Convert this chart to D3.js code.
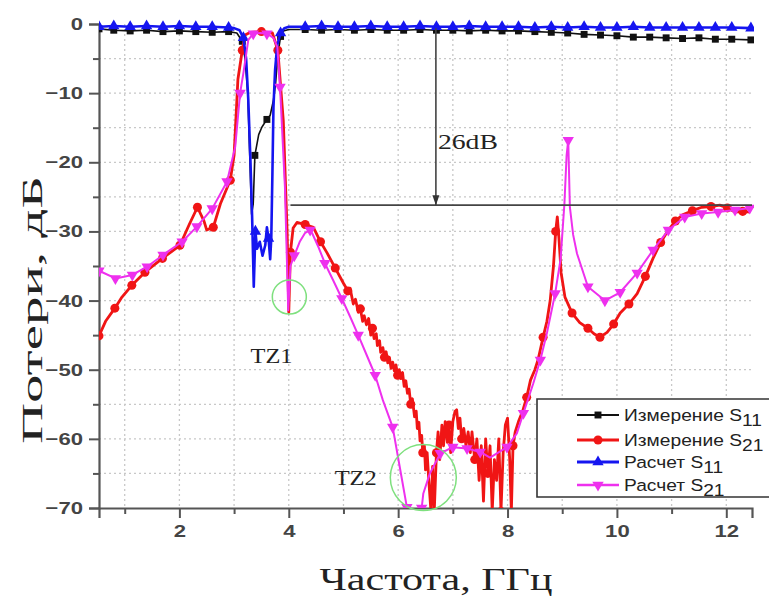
<!DOCTYPE html>
<html lang="ru">
<head>
  <meta charset="UTF-8">
  <title>S-параметры</title>
  <script src="https://d3js.org/d3.v7.min.js"></script>
  <style>
    body { margin: 0; background: #fff; }
    .tick-lbl { font-family: Arial, "Liberation Sans", sans-serif; font-size: 17px; font-weight: 600; fill: #444; }
    .serif { font-family: "Liberation Serif", "Times New Roman", serif; fill: #222; }
  </style>
</head>
<body>
<script>
  var W = 769, H = 599;

  // axis ticks
  var xMajor = [2, 4, 6, 8, 10, 12];
  var xMinor = [1, 3, 5, 7, 9, 11];
  var yMajor = [0, -10, -20, -30, -40, -50, -60, -70];
  var yMinor = [-5, -15, -25, -35, -45, -55, -65];

  // Измерение S11 (black)
  var measS11 = [[0.53,-0.7],[0.8,-0.9],[1.1,-1.0],[1.4,-0.9],[1.7,-1.1],[2.0,-1.0],[2.3,-1.1],[2.6,-1.2],[2.9,-1.1],
    [3.05,-1.3],[3.15,-2.5],[3.2,-5],[3.25,-10],[3.29,-20],[3.32,-27.5],[3.35,-26],[3.38,-19],[3.45,-16],[3.51,-14.9],
    [3.6,-13.8],[3.66,-13.2],[3.72,-11],[3.76,-8.5],[3.8,-4.5],[3.85,-1.8],[3.9,-1.0],[4.0,-0.8],[4.3,-0.8],[4.6,-0.9],
    [4.9,-0.8],[5.2,-0.9],[5.5,-0.8],[5.8,-0.9],[6.1,-0.9],[6.4,-0.8],[6.7,-0.9],[7.0,-0.9],[7.3,-1.0],[7.6,-0.9],
    [7.9,-1.0],[8.2,-1.0],[8.5,-1.1],[8.8,-1.2],[9.1,-1.3],[9.4,-1.5],[9.7,-1.6],[10.0,-1.7],[10.3,-1.9],[10.6,-1.9],
    [10.9,-2.0],[11.2,-2.1],[11.5,-2.0],[11.8,-2.2],[12.1,-2.2],[12.45,-2.3]];

  // Измерение S21 (red)
  var measS21 = [[0.53,-45.1],[0.65,-43],[0.82,-41.1],[0.95,-39.5],[1.13,-37.8],[1.37,-35.9],[1.69,-33.9],[2.01,-32],
    [2.18,-29],[2.33,-26.5],[2.45,-28.5],[2.5,-29.8],[2.62,-29.4],[2.75,-26],[2.93,-22.6],[3.0,-19],[3.07,-8],[3.15,-3.8],
    [3.2,-1.6],[3.3,-1.2],[3.5,-1.1],[3.7,-1.3],[3.8,-3.8],[3.9,-14],[3.97,-30],[4.0,-41.7],[4.03,-33],[4.08,-29.5],
    [4.15,-28.7],[4.2,-28.8],[4.3,-29],[4.45,-29.4],[4.58,-31.5],[4.7,-33.1],[4.85,-35.3],[5.0,-37.5],[5.08,-38.6],
    [5.12,-38.2],[5.18,-40.5],[5.22,-39.8],[5.27,-41.7],[5.31,-41.2],[5.35,-43],[5.38,-42.2],[5.42,-43.5],[5.46,-42.6],
    [5.5,-45],[5.53,-44],[5.56,-45.5],[5.6,-44.8],[5.62,-46.5],[5.66,-45.8],[5.68,-47.5],[5.72,-46.8],[5.75,-48.2],
    [5.78,-47.4],[5.81,-49],[5.84,-48.2],[5.87,-49.8],[5.9,-48.9],[5.93,-50.2],[5.96,-49.3],[5.99,-50.8],[6.02,-50],
    [6.05,-51.3],[6.08,-50.4],[6.11,-52.4],[6.14,-51.6],[6.17,-53.4],[6.2,-52.8],[6.23,-55],[6.26,-54.2],[6.3,-56.8],
    [6.33,-56],[6.35,-58.5],[6.38,-57.6],[6.4,-60.3],[6.43,-59.5],[6.45,-62],[6.48,-61],[6.5,-64.5],[6.53,-62],
    [6.56,-66],[6.6,-70.5],[6.63,-64],[6.66,-70.5],[6.7,-62],[6.73,-59],[6.76,-63],[6.8,-58],[6.83,-61],[6.86,-57.5],
    [6.9,-60.5],[6.93,-58],[6.96,-62],[7.0,-57.5],[7.04,-56],[7.07,-55.8],[7.1,-58.5],[7.13,-57],[7.16,-60],[7.2,-58.5],
    [7.24,-61],[7.28,-59],[7.32,-62],[7.35,-59],[7.4,-63],[7.44,-60],[7.48,-66],[7.52,-61],[7.56,-69],[7.6,-60],
    [7.64,-65],[7.68,-61],[7.72,-70.5],[7.76,-63],[7.8,-66],[7.84,-60],[7.88,-70.5],[7.92,-62],[7.96,-58],[8.0,-57],
    [8.04,-63],[8.07,-70.5],[8.1,-61],[8.14,-59],[8.2,-57.5],[8.28,-55.9],[8.35,-54],[8.42,-51.5],[8.5,-50],
    [8.56,-48.5],[8.65,-45.3],[8.72,-43],[8.78,-40],[8.84,-35],[8.88,-30],[8.91,-27.9],[8.94,-31],[8.98,-36],
    [9.05,-39.5],[9.18,-41.8],[9.32,-43.2],[9.47,-44],[9.58,-44.8],[9.69,-45.3],[9.82,-44.6],[9.94,-43.4],[10.06,-41.8],
    [10.22,-40.5],[10.37,-39],[10.52,-36.5],[10.66,-33.9],[10.8,-31.6],[10.94,-29.8],[11.07,-28.5],[11.2,-27.6],
    [11.38,-27],[11.55,-26.5],[11.72,-26.4],[11.88,-26.2],[12.02,-26.6],[12.16,-27.2],[12.3,-27.1],[12.43,-27.2]];

  // Расчет S11 (blue)
  var simS11 = [[0.53,-0.4],[0.8,-0.3],[1.1,-0.4],[1.4,-0.3],[1.7,-0.4],[2.0,-0.3],[2.3,-0.4],[2.6,-0.4],[2.9,-0.5],
    [3.0,-0.6],[3.1,-0.9],[3.17,-2],[3.22,-5],[3.26,-11],[3.3,-20],[3.33,-28],[3.36,-38],[3.39,-30],[3.42,-32.5],
    [3.47,-31.5],[3.52,-33.5],[3.57,-32],[3.6,-29.4],[3.63,-31],[3.66,-34],[3.68,-31],[3.7,-22],[3.72,-12],[3.75,-6.6],
    [3.79,-3],[3.85,-1.3],[3.92,-0.6],[4.0,-0.4],[4.3,-0.4],[4.6,-0.3],[4.9,-0.4],[5.2,-0.4],[5.5,-0.3],[5.8,-0.4],
    [6.1,-0.4],[6.4,-0.3],[6.7,-0.4],[7.0,-0.4],[7.3,-0.3],[7.6,-0.4],[7.9,-0.4],[8.2,-0.4],[8.5,-0.5],[8.8,-0.4],
    [9.1,-0.5],[9.4,-0.4],[9.7,-0.5],[10.0,-0.5],[10.3,-0.4],[10.6,-0.5],[10.9,-0.5],[11.2,-0.5],[11.5,-0.5],
    [11.8,-0.5],[12.1,-0.5],[12.45,-0.6]];

  // Расчет S21 (magenta)
  var simS21 = [[0.53,-35.7],[0.59,-35.9],[0.83,-36.8],[1.14,-36.3],[1.41,-35.1],[1.7,-33.4],[2.05,-31.5],[2.32,-29.3],
    [2.6,-26.7],[2.87,-22.8],[3.02,-17.8],[3.11,-10],[3.17,-7.1],[3.26,-2.3],[3.35,-1.4],[3.48,-1.3],[3.6,-1.4],
    [3.72,-2],[3.79,-3.3],[3.84,-9.1],[3.93,-23.6],[3.99,-41.4],[4.03,-35],[4.1,-33.5],[4.2,-31.5],[4.3,-30.2],
    [4.39,-29.8],[4.43,-30.3],[4.55,-32.4],[4.66,-34.6],[4.82,-37.2],[4.97,-39.7],[5.12,-42.3],[5.27,-45],[5.42,-47.8],
    [5.58,-50.8],[5.72,-54.4],[5.9,-58.3],[6.03,-64.1],[6.16,-69.9],[6.3,-74],[6.43,-70],[6.46,-67.9],[6.58,-65],
    [6.77,-62.1],[7.0,-61.2],[7.26,-61.4],[7.5,-61.9],[7.68,-62.7],[7.99,-61.2],[8.17,-59.2],[8.29,-56.3],[8.47,-52],
    [8.6,-48.6],[8.72,-44.7],[8.87,-39],[8.97,-34],[9.04,-26],[9.08,-19],[9.11,-16.8],[9.14,-26.5],[9.2,-30.5],
    [9.27,-33.2],[9.47,-38],[9.78,-40],[10.06,-38.8],[10.37,-36],[10.66,-32.7],[10.94,-29.8],[11.24,-27.9],
    [11.55,-27.4],[11.85,-27.2],[12.16,-26.9],[12.43,-26.6]];

  var seriesNames = ["Измерение S", "Измерение S", "Расчет S", "Расчет S"];
  var seriesSubs = ["11", "21", "11", "21"];

  // annotations: 26 dB level line and arrow, TZ circles
  var levelLine = [[4.03, -26.2], [12.47, -26.2]];
  var arrowLine = [[6.69, -0.6], [6.69, -26.2]];
  var tzMarks = [{ label: "TZ1", f: 4.01, db: -39.5, r: 17, lf: 3.3, ldb: -49.0 },
                 { label: "TZ2", f: 6.46, db: -65.6, r: 33, lf: 4.84, ldb: -66.7 }];

  var x = d3.scaleLinear().domain([0.53, 12.47]).range([99, 752]);
  var y = d3.scaleLinear().domain([-70, 0]).range([508, 24]);

  var svg = d3.select("body").append("svg")
    .attr("width", W).attr("height", H)
    .style("background", "#fff");

  svg.append("defs").append("clipPath").attr("id", "plot")
    .append("rect").attr("x", 99).attr("y", 18).attr("width", 655).attr("height", 490);

  // grid
  var grid = svg.append("g").attr("stroke", "#c8c8c8").attr("stroke-width", 1.3).attr("stroke-dasharray", "2,3");
  grid.selectAll(".gx").data(xMajor.concat(xMinor)).enter().append("line")
    .attr("x1", d => x(d)).attr("x2", d => x(d)).attr("y1", y(0)).attr("y2", y(-70));
  grid.selectAll(".gy").data(yMajor.concat(yMinor).filter(d => d < 0 && d > -70)).enter().append("line")
    .attr("y1", d => y(d)).attr("y2", d => y(d)).attr("x1", x(0.53)).attr("x2", x(12.47));

  // axes
  svg.append("g").attr("transform", "translate(0," + y(-70) + ")")
    .call(d3.axisBottom(x).tickValues(xMajor).tickSize(10).tickPadding(7).tickFormat(d3.format("d")));
  svg.append("g").attr("transform", "translate(0," + y(-70) + ")")
    .call(d3.axisBottom(x).tickValues(xMinor).tickSize(6).tickFormat(""))
    .select(".domain").remove();
  svg.append("g").attr("transform", "translate(" + x(0.53) + ",0)")
    .call(d3.axisLeft(y).tickValues(yMajor).tickSize(10).tickPadding(6).tickFormat(d3.format("d")));
  svg.append("g").attr("transform", "translate(" + x(0.53) + ",0)")
    .call(d3.axisLeft(y).tickValues(yMinor).tickSize(6).tickFormat(""))
    .select(".domain").remove();
  svg.selectAll(".domain").attr("stroke", "#555").attr("stroke-width", 2.2);
  svg.selectAll(".tick line").attr("stroke", "#555").attr("stroke-width", 2);
  svg.selectAll(".tick text").attr("class", "tick-lbl").attr("font-size", null).attr("font-family", null)
    .each(function () {
      var len = this.getComputedTextLength();
      d3.select(this).attr("textLength", len * 1.3).attr("lengthAdjust", "spacingAndGlyphs");
    });

  // series
  var line = d3.line().x(d => x(d[0])).y(d => y(d[1]));
  var plot = svg.append("g").attr("clip-path", "url(#plot)");

  var styles = [
    { data: measS11, color: "#111111", width: 1.6, sym: d3.symbolSquare, size: 48, rot: 0 },
    { data: measS21, color: "#f01515", width: 2.8, sym: d3.symbolCircle, size: 64, rot: 0 },
    { data: simS11, color: "#1515f0", width: 2.6, sym: d3.symbolTriangle, size: 56, rot: 0 },
    { data: simS21, color: "#ee30ee", width: 2.0, sym: d3.symbolTriangle, size: 56, rot: 180 }
  ];

  // markers at roughly even frequency steps
  function markerPoints(data) {
    var out = [], last = -100;
    data.forEach(function (d) {
      var px = x(d[0]);
      if (px - last >= 12) { out.push(d); last = px; }
    });
    return out;
  }

  styles.forEach(function (s) {
    plot.append("path").datum(s.data)
      .attr("fill", "none").attr("stroke", s.color).attr("stroke-width", s.width)
      .attr("stroke-linejoin", "round").attr("d", line);
    plot.selectAll(null).data(markerPoints(s.data)).enter().append("path")
      .attr("d", d3.symbol().type(s.sym).size(s.size))
      .attr("fill", s.color)
      .attr("transform", d => "translate(" + x(d[0]) + "," + y(d[1]) + ") rotate(" + s.rot + ")");
  });

  // 26 dB annotation
  var ann = svg.append("g").attr("stroke", "#444").attr("stroke-width", 1.6).attr("fill", "none");
  ann.append("path").datum(levelLine).attr("d", line);
  ann.append("path").datum(arrowLine).attr("d", line);
  var ax = x(arrowLine[1][0]), ay = y(arrowLine[1][1]);
  svg.append("path")
    .attr("d", "M" + (ax - 3.5) + "," + (ay - 10) + "L" + (ax + 3.5) + "," + (ay - 10) + "L" + ax + "," + ay + "Z")
    .attr("fill", "#333");
  svg.append("text").attr("class", "serif")
    .attr("x", x(6.69) + 2).attr("y", y(-18.1))
    .attr("font-size", 21).attr("textLength", 60).attr("lengthAdjust", "spacingAndGlyphs").text("26dB");

  // transmission zeros
  tzMarks.forEach(function (t) {
    svg.append("circle").attr("cx", x(t.f)).attr("cy", y(t.db)).attr("r", t.r)
      .attr("fill", "none").attr("stroke", "#7ee07e").attr("stroke-width", 1.5);
    svg.append("text").attr("class", "serif")
      .attr("x", x(t.lf)).attr("y", y(t.ldb))
      .attr("font-size", 21).attr("textLength", 42).attr("lengthAdjust", "spacingAndGlyphs").text(t.label);
  });

  // legend
  var lg = svg.append("g");
  lg.append("path").attr("d", "M772,399 L537,399 L537,497 L772,497")
    .attr("fill", "#fff").attr("stroke", "#333").attr("stroke-width", 1.6);
  var rowsY = [415, 440, 462, 485];
  styles.forEach(function (s, i) {
    var ry = rowsY[i];
    lg.append("line").attr("x1", 577).attr("x2", 619).attr("y1", ry).attr("y2", ry)
      .attr("stroke", s.color).attr("stroke-width", s.width + 0.4);
    lg.append("path").attr("d", d3.symbol().type(s.sym).size(s.size)())
      .attr("fill", s.color)
      .attr("transform", "translate(598," + ry + ") rotate(" + s.rot + ")");
    var t = lg.append("text").attr("transform", "translate(624," + (ry + 6) + ") scale(1.13,1)")
      .attr("font-family", "Arial, 'Liberation Sans', sans-serif").attr("font-size", 17).attr("fill", "#222");
    t.append("tspan").text(seriesNames[i]);
    t.append("tspan").attr("dy", 5).text(seriesSubs[i]);
  });

  // axis titles
  svg.append("text").attr("class", "serif")
    .attr("transform", "translate(42,310) rotate(-90)")
    .attr("text-anchor", "middle").attr("font-size", 29)
    .attr("textLength", 268).attr("lengthAdjust", "spacingAndGlyphs").text("Потери, дБ");
  svg.append("text").attr("class", "serif")
    .attr("x", 436).attr("y", 590)
    .attr("text-anchor", "middle").attr("font-size", 32)
    .attr("textLength", 233).attr("lengthAdjust", "spacingAndGlyphs").text("Частота, ГГц");
</script>
</body>
</html>
